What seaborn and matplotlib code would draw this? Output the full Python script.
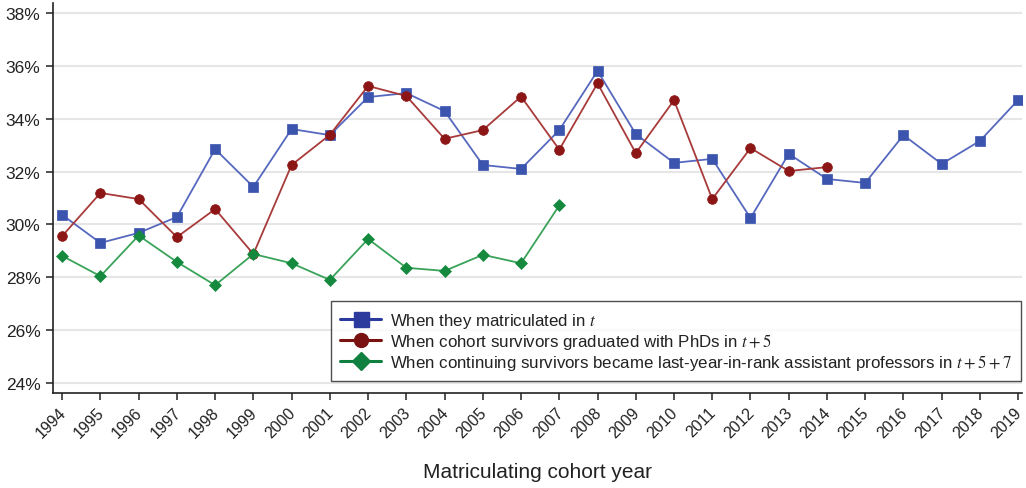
import numpy as np
import pandas as pd
import matplotlib
matplotlib.use("Agg")
import matplotlib.pyplot as plt
from matplotlib.ticker import FuncFormatter
from matplotlib.lines import Line2D
from matplotlib.transforms import ScaledTranslation
import seaborn as sns

# Cohort years
years_all = list(range(1994, 2020))
years_phd = list(range(1994, 2015))
years_asst = list(range(1994, 2008))

# Share (%) of each matriculating cohort
matriculated = [30.36, 29.30, 29.68, 30.28, 32.85, 31.42, 33.61, 33.38, 34.82, 34.97,
                34.29, 32.25, 32.10, 33.57, 35.81, 33.42, 32.33, 32.48, 30.24, 32.67,
                31.72, 31.57, 33.38, 32.29, 33.16, 34.71]
graduated = [29.56, 31.19, 30.96, 29.52, 30.58, 28.88, 32.25, 33.39, 35.24, 34.86,
             33.24, 33.57, 34.84, 32.83, 35.34, 32.70, 34.70, 30.96, 32.89, 32.02,
             32.17]
assistant = [28.81, 28.04, 29.58, 28.58, 27.70, 28.88, 28.53, 27.90, 29.45, 28.36,
             28.24, 28.85, 28.53, 30.72]

labels = [
    r"When they matriculated in $t$",
    r"When cohort survivors graduated with PhDs in $t + 5$",
    r"When continuing survivors became last-year-in-rank assistant professors in $t + 5 + 7$",
]
y_ticks = [24, 26, 28, 30, 32, 34, 36, 38]
x_label = "Matriculating cohort year"

sns.set_theme(style="white")
plt.rcParams["font.family"] = ["Liberation Sans", "DejaVu Sans"]
plt.rcParams["mathtext.fontset"] = "stix"

fig = plt.figure(figsize=(10.26, 4.89), dpi=100)
ax = fig.add_axes([53 / 1026, 1 - 394 / 489, (1022 - 53) / 1026, (394 - 4) / 489])

series = [
    (years_all, matriculated, "#3b54ad", "#5668be", "s", 7.8, "#2b3a9c"),
    (years_phd, graduated, "#8c1515", "#a83a3a", "o", 7.0, "#7a1212"),
    (years_asst, assistant, "#158a3e", "#3aa35a", "D", 6.5, "#0f8040"),
]

for (xs, ys, mcol, lcol, mk, ms, _), lab in zip(series, labels):
    df = pd.DataFrame({"year": xs, "share": ys})
    sns.lineplot(data=df, x="year", y="share", ax=ax, color=lcol, linewidth=1.3,
                 marker=mk, markersize=ms, markerfacecolor=mcol,
                 markeredgecolor=mcol, markeredgewidth=0.5, label=lab,
                 legend=False)

ax.set_xlim(1993.76, 2019.1)
ax.set_ylim(23.62, 38.38)
ax.set_yticks(y_ticks)
ax.yaxis.set_major_formatter(FuncFormatter(lambda v, _: f"{v:.0f}%"))
ax.set_xticks(years_all)
ax.tick_params(axis="y", labelsize=12.5, labelcolor="#222222")
ax.tick_params(axis="both", direction="out", length=5, width=1.1, color="#222222",
               bottom=True, left=True, pad=4)
ax.tick_params(axis="x", pad=3)
ax.set_xticklabels([str(y) for y in years_all], rotation=45, ha="right",
                   rotation_mode="anchor", fontsize=11.5, color="#222222")
# nudge the slanted year labels a little to the left
shift = ScaledTranslation(-4 / 100, 0, fig.dpi_scale_trans)
for lbl in ax.get_xticklabels():
    lbl.set_transform(lbl.get_transform() + shift)

ax.grid(axis="y", color="#e6e6e6", linewidth=1.5)
ax.set_axisbelow(True)
for side in ("top", "right"):
    ax.spines[side].set_visible(False)
for side in ("left", "bottom"):
    ax.spines[side].set_color("#222222")
    ax.spines[side].set_linewidth(1.2)

ax.set_xlabel(x_label, fontsize=15, color="#222222", labelpad=16)
ax.set_ylabel("")

# Legend with bold handles
handles = [Line2D([0], [0], color=h, linewidth=2.2, marker=mk, markersize=ms + 3,
                  markerfacecolor=h, markeredgecolor=h)
           for (_, _, _, _, mk, ms, h) in series]
leg = ax.legend(handles, labels, loc="lower right", bbox_to_anchor=(0.999, 0.031),
                fontsize=12.2, frameon=True, fancybox=False, handlelength=2.4,
                borderpad=0.55, labelspacing=0.06, handletextpad=0.5,
                edgecolor="#222222", borderaxespad=0.0)
leg.get_frame().set_linewidth(1.0)
for t in leg.get_texts():
    t.set_color("#222222")

fig.savefig("out.png", dpi=100)
